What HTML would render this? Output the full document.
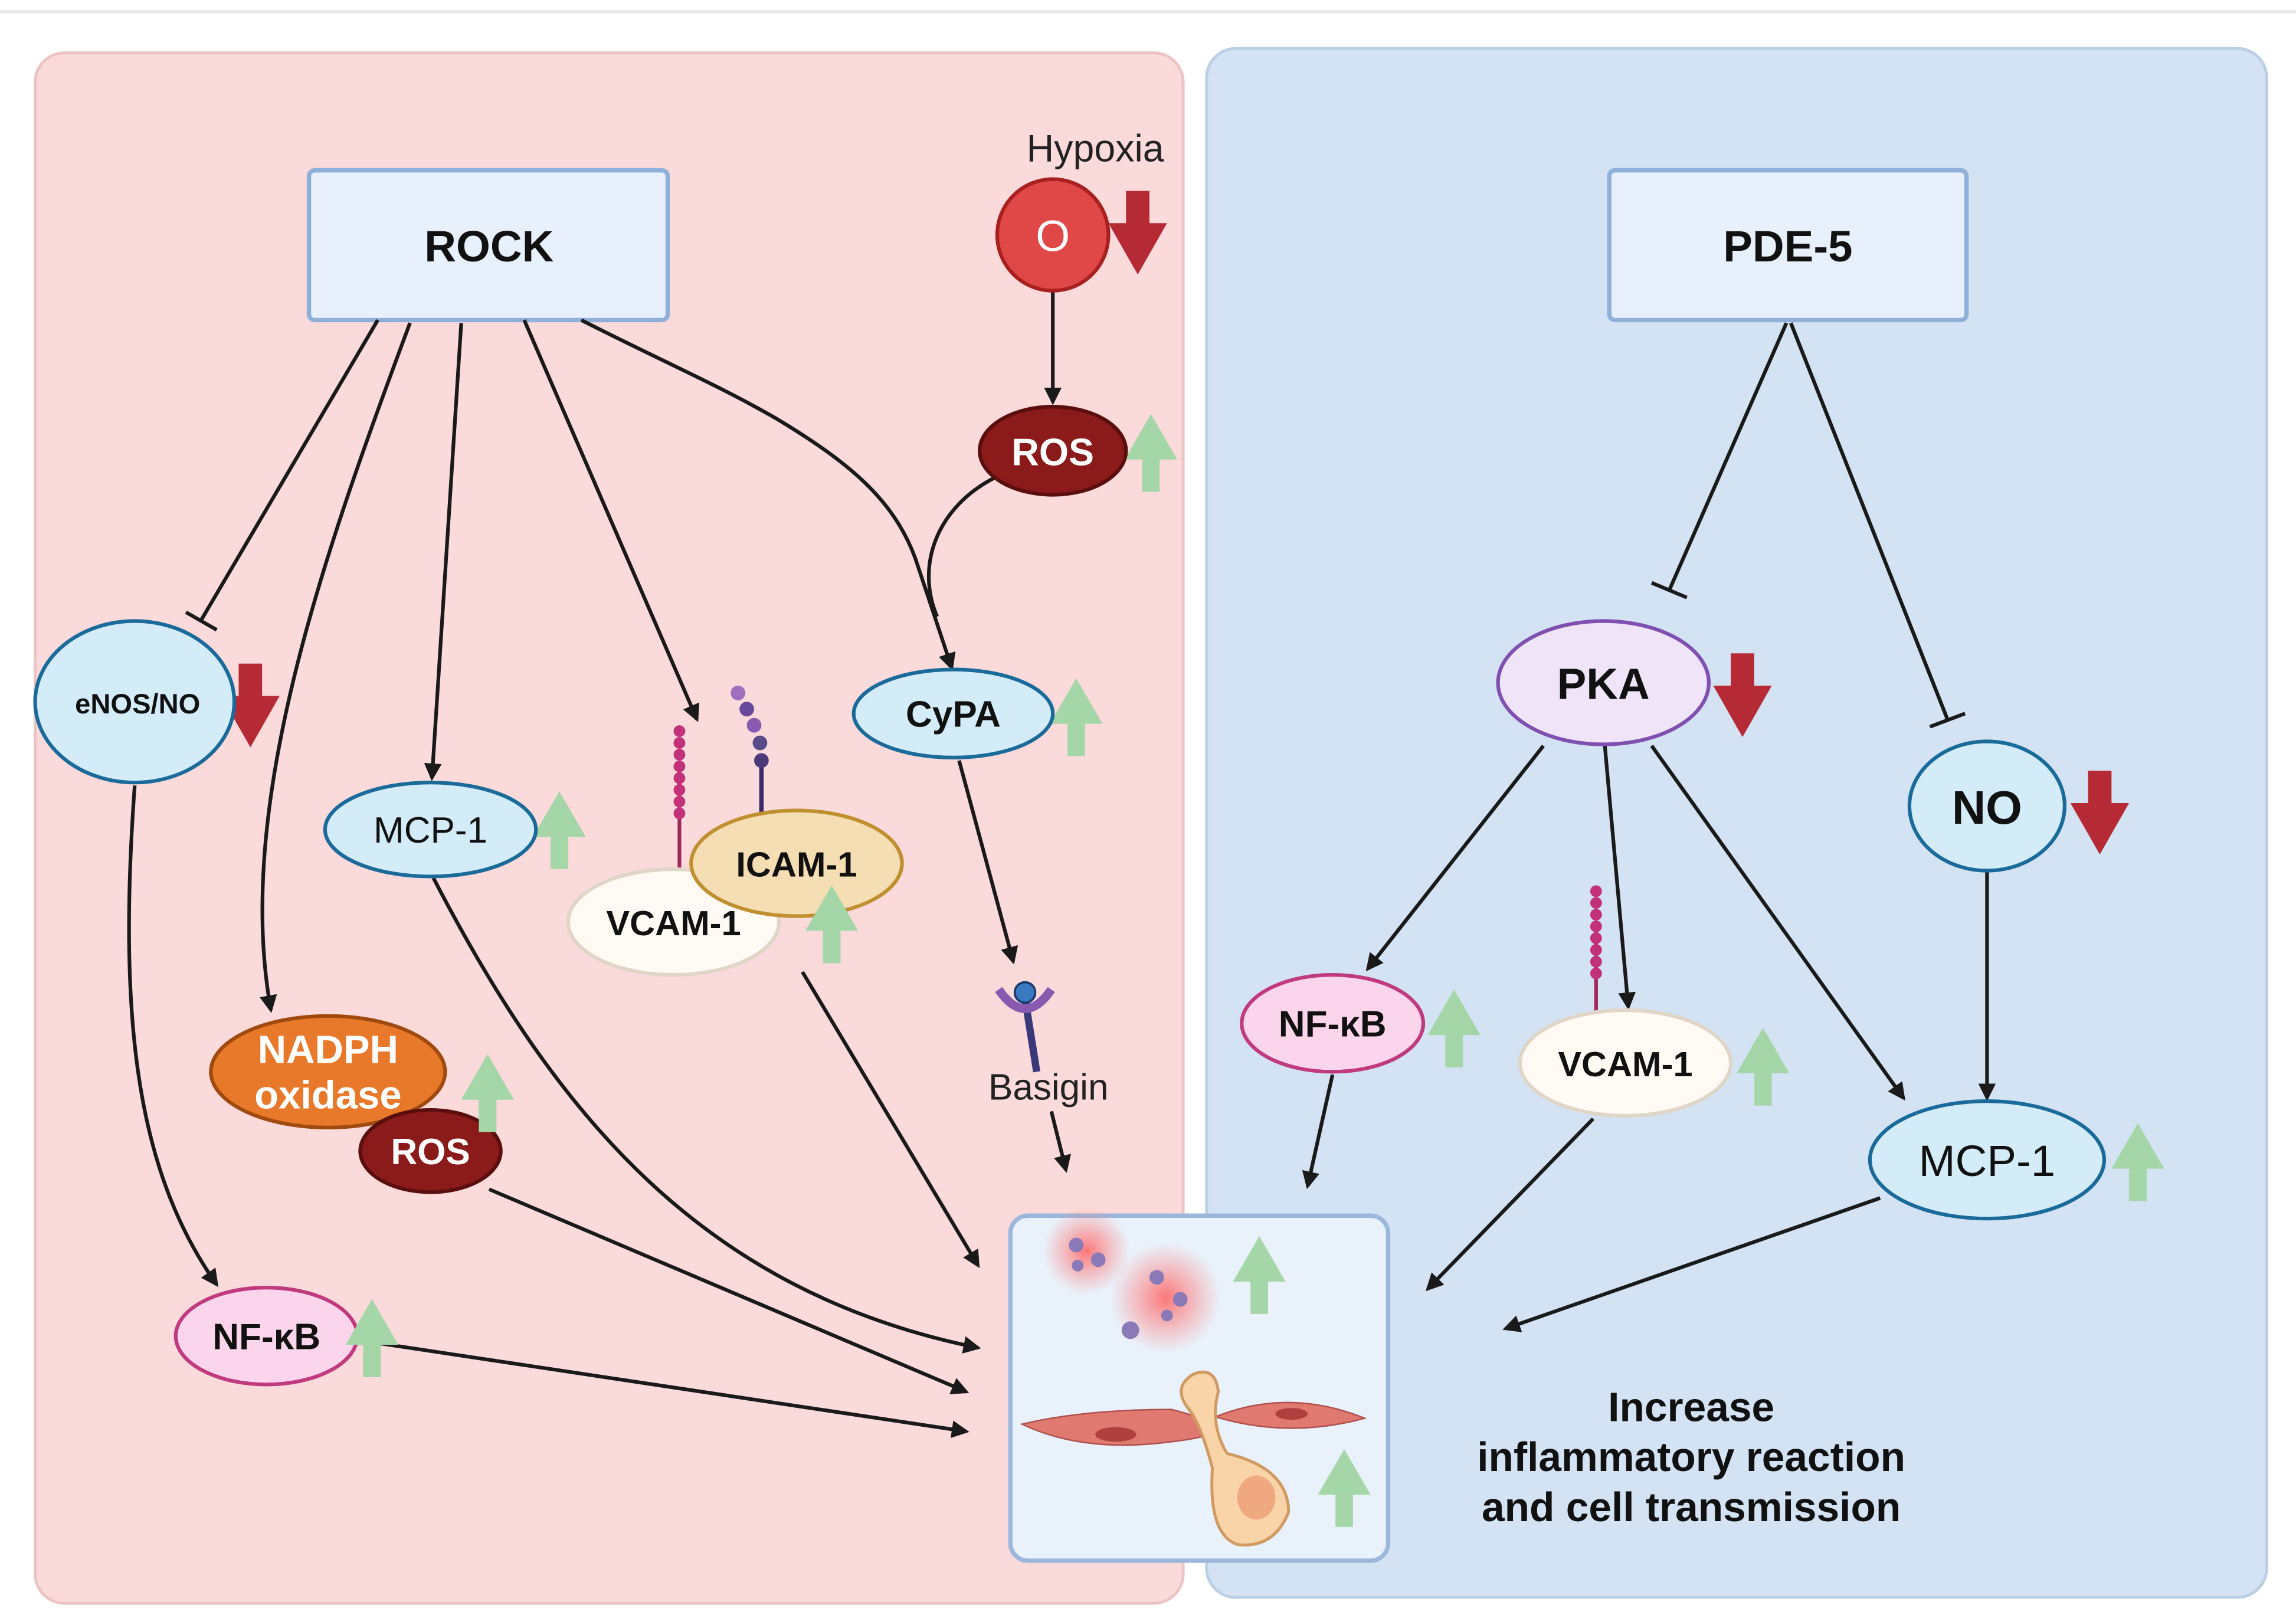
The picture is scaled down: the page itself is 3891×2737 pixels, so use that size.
<!DOCTYPE html>
<html><head><meta charset="utf-8">
<style>
html,body{margin:0;padding:0;background:#fff;}
svg{display:block;}
text{font-family:"Liberation Sans",Arial,sans-serif;}
</style></head>
<body>
<svg width="3891" height="2737" viewBox="0 0 1568 1100" preserveAspectRatio="none" xmlns="http://www.w3.org/2000/svg">
<defs>
<marker id="ah" markerWidth="12" markerHeight="12" refX="10" refY="6" orient="auto" markerUnits="userSpaceOnUse">
<path d="M0,0 L12,6 L0,12 Z" fill="#1a1a1a"/></marker>
<radialGradient id="glow"><stop offset="0" stop-color="#ff6a6a" stop-opacity="0.9"/><stop offset="1" stop-color="#ff8080" stop-opacity="0"/></radialGradient>
</defs>
<rect width="1568" height="1100" fill="#fff"/>
<line x1="0" y1="8" x2="1568" y2="8" stroke="#e6e6e6" stroke-width="2"/>
<rect x="24" y="36" width="784" height="1056" rx="20" fill="#fadadb" stroke="#ecc4c4" stroke-width="2"/>
<rect x="824" y="33" width="724" height="1055" rx="20" fill="#d3e3f3" stroke="#bccfe4" stroke-width="2"/>

<rect x="211" y="116" width="245" height="102" rx="4" fill="#e8f0fb" stroke="#8fb0d8" stroke-width="3"/>
<text x="334" y="178" font-size="30" font-weight="bold" text-anchor="middle" fill="#111">ROCK</text>
<rect x="1099" y="116" width="244" height="102" rx="4" fill="#e8f0fb" stroke="#8fb0d8" stroke-width="3"/>
<text x="1221" y="178" font-size="30" font-weight="bold" text-anchor="middle" fill="#111">PDE-5</text>

<g stroke="#1a1a1a" stroke-width="2.5" fill="none">
<line x1="258" y1="218" x2="137" y2="423"/>
<line x1="127" y1="417" x2="148" y2="429"/>
<path d="M280,220 C220,380 160,550 185,688" marker-end="url(#ah)"/>
<line x1="315" y1="220" x2="295" y2="530" marker-end="url(#ah)"/>
<line x1="358" y1="218" x2="476" y2="490" marker-end="url(#ah)"/>
<path d="M397,218 C450,245 490,262 530,285 C580,315 610,340 625,380 L650,455" marker-end="url(#ah)"/>
<path d="M680,325 C640,345 625,385 640,420"/>
<line x1="719" y1="198" x2="719" y2="274" marker-end="url(#ah)"/>
<line x1="655" y1="518" x2="692" y2="655" marker-end="url(#ah)"/>
<line x1="718" y1="757" x2="728" y2="797" marker-end="url(#ah)"/>
<path d="M92,535 C80,700 95,800 148,875" marker-end="url(#ah)"/>
<path d="M296,598 C380,760 480,880 668,918" marker-end="url(#ah)"/>
<line x1="548" y1="662" x2="668" y2="862" marker-end="url(#ah)"/>
<line x1="334" y1="810" x2="660" y2="948" marker-end="url(#ah)"/>
<line x1="246" y1="913" x2="660" y2="975" marker-end="url(#ah)"/>

<line x1="1220" y1="220" x2="1140" y2="402"/>
<line x1="1128" y1="397" x2="1152" y2="407"/>
<line x1="1223" y1="220" x2="1330" y2="490"/>
<line x1="1318" y1="495" x2="1342" y2="486"/>
<line x1="1054" y1="508" x2="934" y2="660" marker-end="url(#ah)"/>
<line x1="1096" y1="508" x2="1112" y2="686" marker-end="url(#ah)"/>
<line x1="1128" y1="508" x2="1300" y2="748" marker-end="url(#ah)"/>
<line x1="1357" y1="594" x2="1357" y2="748" marker-end="url(#ah)"/>
<line x1="910" y1="732" x2="893" y2="808" marker-end="url(#ah)"/>
<line x1="1088" y1="762" x2="975" y2="878" marker-end="url(#ah)"/>
<line x1="1284" y1="816" x2="1028" y2="905" marker-end="url(#ah)"/>
</g>

<!-- up/down arrow glyph defs inline -->
<g id="arrows">
<path d="M769,130 h16 v22 h12 l-20,35 l-20,-35 h12z" fill="#b52a35"/>
<path d="M780,335 h12 v-22 h12 l-18,-31 l-18,31 h12z" fill="#a5d6a7"/>
<path d="M163,452 h16 v22 h12 l-20,35 l-20,-35 h12z" fill="#b52a35"/>
<path d="M376,592 h12 v-22 h12 l-18,-31 l-18,31 h12z" fill="#a5d6a7"/>
<path d="M562,656 h12 v-22 h12 l-18,-31 l-18,31 h12z" fill="#a5d6a7"/>
<path d="M729,515 h12 v-22 h12 l-18,-31 l-18,31 h12z" fill="#a5d6a7"/>
<path d="M327,771 h12 v-22 h12 l-18,-31 l-18,31 h12z" fill="#a5d6a7"/>
<path d="M248,938 h12 v-22 h12 l-18,-31 l-18,31 h12z" fill="#a5d6a7"/>
<path d="M854,895 h12 v-22 h12 l-18,-31 l-18,31 h12z" fill="#a5d6a7"/>
<path d="M912,1040 h12 v-22 h12 l-18,-31 l-18,31 h12z" fill="#a5d6a7"/>
<path d="M1182,445 h16 v22 h12 l-20,35 l-20,-35 h12z" fill="#b52a35"/>
<path d="M1426,525 h16 v22 h12 l-20,35 l-20,-35 h12z" fill="#b52a35"/>
<path d="M987,727 h12 v-22 h12 l-18,-31 l-18,31 h12z" fill="#a5d6a7"/>
<path d="M1198,753 h12 v-22 h12 l-18,-31 l-18,31 h12z" fill="#a5d6a7"/>
<path d="M1454,818 h12 v-22 h12 l-18,-31 l-18,31 h12z" fill="#a5d6a7"/>
</g>

<text x="748" y="110" font-size="26" text-anchor="middle" fill="#222">Hypoxia</text>
<circle cx="719" cy="160" r="38" fill="#e04848" stroke="#a82020" stroke-width="2.5"/>
<text x="719" y="171" font-size="30" text-anchor="middle" fill="#fff">O</text>
<ellipse cx="719" cy="307" rx="50" ry="30" fill="#8b1a1a" stroke="#5a0e0e" stroke-width="2.5"/>
<text x="719" y="317" font-size="26" font-weight="bold" text-anchor="middle" fill="#fff">ROS</text>

<ellipse cx="92" cy="478" rx="68" ry="55" fill="#d4ebf8" stroke="#1a6a9a" stroke-width="2.5"/>
<text x="94" y="486" font-size="19" font-weight="bold" text-anchor="middle" fill="#111">eNOS/NO</text>
<ellipse cx="294" cy="565" rx="72" ry="32" fill="#d4ebf8" stroke="#1a6a9a" stroke-width="2.5"/>
<text x="294" y="574" font-size="25" text-anchor="middle" fill="#111">MCP-1</text>
<ellipse cx="651" cy="486" rx="68" ry="30" fill="#d4ebf8" stroke="#1a6a9a" stroke-width="2.5"/>
<text x="651" y="495" font-size="25" font-weight="bold" text-anchor="middle" fill="#111">CyPA</text>

<!-- adhesion molecules -->
<line x1="464" y1="520" x2="464" y2="592" stroke="#a0285a" stroke-width="2.5"/>
<g fill="#c2317a"><circle cx="464" cy="498" r="4"/><circle cx="464" cy="506" r="4"/><circle cx="464" cy="514" r="4"/><circle cx="464" cy="522" r="4"/><circle cx="464" cy="530" r="4"/><circle cx="464" cy="538" r="4"/><circle cx="464" cy="546" r="4"/><circle cx="464" cy="554" r="4"/></g>
<line x1="520" y1="520" x2="520" y2="575" stroke="#3a2a6a" stroke-width="3"/>
<g><circle cx="504" cy="472" r="5" fill="#a070c0"/><circle cx="510" cy="483" r="5" fill="#6a4a9a"/><circle cx="515" cy="494" r="5" fill="#8a5ab0"/><circle cx="519" cy="506" r="5" fill="#5a4a8a"/><circle cx="520" cy="518" r="5" fill="#4a3a7a"/></g>
<ellipse cx="460" cy="628" rx="72" ry="36" fill="#fffaf3" stroke="#e0d6c8" stroke-width="2.5"/>
<text x="460" y="637" font-size="24" font-weight="bold" text-anchor="middle" fill="#111">VCAM-1</text>
<ellipse cx="544" cy="588" rx="72" ry="36" fill="#f5deb3" stroke="#c09030" stroke-width="2.5"/>
<text x="544" y="597" font-size="24" font-weight="bold" text-anchor="middle" fill="#111">ICAM-1</text>
<path d="M562,656 h12 v-22 h12 l-18,-31 l-18,31 h12z" fill="#a5d6a7"/>

<!-- basigin -->
<line x1="700" y1="680" x2="708" y2="730" stroke="#3a3a7a" stroke-width="5"/>
<path d="M682,674 Q700,700 718,674" fill="none" stroke="#8a5ab0" stroke-width="6"/>
<circle cx="700" cy="676" r="7" fill="#3a7ac0" stroke="#1a3a6a" stroke-width="1.5"/>
<text x="716" y="749" font-size="25" text-anchor="middle" fill="#222">Basigin</text>

<ellipse cx="224" cy="730" rx="80" ry="38" fill="#e8782a" stroke="#a04a10" stroke-width="2.5"/>
<text x="224" y="724" font-size="27" font-weight="bold" text-anchor="middle" fill="#fff">NADPH</text>
<text x="224" y="755" font-size="27" font-weight="bold" text-anchor="middle" fill="#fff">oxidase</text>
<ellipse cx="294" cy="784" rx="48" ry="28" fill="#8b1a1a" stroke="#5a0e0e" stroke-width="2.5"/>
<text x="294" y="793" font-size="25" font-weight="bold" text-anchor="middle" fill="#fff">ROS</text>
<path d="M327,771 h12 v-22 h12 l-18,-31 l-18,31 h12z" fill="#a5d6a7"/>
<ellipse cx="182" cy="910" rx="62" ry="33" fill="#fbd5ec" stroke="#c03a80" stroke-width="2.5"/>
<text x="182" y="919" font-size="25" font-weight="bold" text-anchor="middle" fill="#111">NF-κB</text>
<path d="M248,938 h12 v-22 h12 l-18,-31 l-18,31 h12z" fill="#a5d6a7"/>

<!-- center cell box -->
<rect x="690" y="828" width="258" height="235" rx="12" fill="#e9f2fb" stroke="#9bb8dc" stroke-width="3"/>
<circle cx="742" cy="852" r="30" fill="url(#glow)"/>
<circle cx="796" cy="884" r="38" fill="url(#glow)"/>
<g fill="#8a7ab8"><circle cx="735" cy="848" r="5"/><circle cx="750" cy="858" r="5"/><circle cx="736" cy="862" r="4"/><circle cx="790" cy="870" r="5"/><circle cx="806" cy="885" r="5"/><circle cx="772" cy="906" r="6"/><circle cx="797" cy="896" r="4"/></g>
<path d="M698,970 Q740,960 800,960 Q860,975 800,982 Q740,990 698,970Z" fill="#e07a70" stroke="#b05050"/>
<ellipse cx="762" cy="977" rx="14" ry="5" fill="#b04040"/>
<path d="M830,965 Q880,945 932,966 Q880,980 830,965Z" fill="#e07a70" stroke="#b05050"/>
<ellipse cx="882" cy="963" rx="11" ry="4" fill="#b04040"/>
<path d="M815,936 Q830,930 832,948 Q826,970 838,990 Q880,1000 880,1030 Q870,1055 845,1052 Q825,1045 828,1000 Q820,970 812,960 Q800,945 815,936Z" fill="#f8d4a8" stroke="#d09a60" stroke-width="2"/>
<ellipse cx="858" cy="1020" rx="13" ry="15" fill="#f0a880"/>
<path d="M854,895 h12 v-22 h12 l-18,-31 l-18,31 h12z" fill="#a5d6a7"/>
<path d="M912,1040 h12 v-22 h12 l-18,-31 l-18,31 h12z" fill="#a5d6a7"/>

<!-- right nodes -->
<ellipse cx="1095" cy="465" rx="72" ry="42" fill="#f0e4f8" stroke="#8050b0" stroke-width="2.5"/>
<text x="1095" y="476" font-size="30" font-weight="bold" text-anchor="middle" fill="#111">PKA</text>
<ellipse cx="1357" cy="549" rx="53" ry="44" fill="#d4ebf8" stroke="#1a6a9a" stroke-width="2.5"/>
<text x="1357" y="561" font-size="32" font-weight="bold" text-anchor="middle" fill="#111">NO</text>
<ellipse cx="910" cy="697" rx="62" ry="33" fill="#fbd5ec" stroke="#c03a80" stroke-width="2.5"/>
<text x="910" y="706" font-size="25" font-weight="bold" text-anchor="middle" fill="#111">NF-κB</text>
<line x1="1090" y1="630" x2="1090" y2="698" stroke="#a0285a" stroke-width="2.5"/>
<g fill="#c2317a"><circle cx="1090" cy="607" r="4"/><circle cx="1090" cy="615" r="4"/><circle cx="1090" cy="623" r="4"/><circle cx="1090" cy="631" r="4"/><circle cx="1090" cy="639" r="4"/><circle cx="1090" cy="647" r="4"/><circle cx="1090" cy="655" r="4"/><circle cx="1090" cy="663" r="4"/></g>
<ellipse cx="1110" cy="724" rx="72" ry="36" fill="#fffaf3" stroke="#e0d6c8" stroke-width="2.5"/>
<text x="1110" y="733" font-size="24" font-weight="bold" text-anchor="middle" fill="#111">VCAM-1</text>
<ellipse cx="1357" cy="790" rx="80" ry="40" fill="#d4ebf8" stroke="#1a6a9a" stroke-width="2.5"/>
<text x="1357" y="801" font-size="30" text-anchor="middle" fill="#111">MCP-1</text>

<text x="1155" y="968" font-size="28" font-weight="bold" text-anchor="middle" fill="#111">Increase</text>
<text x="1155" y="1002" font-size="28" font-weight="bold" text-anchor="middle" fill="#111">inflammatory reaction</text>
<text x="1155" y="1036" font-size="28" font-weight="bold" text-anchor="middle" fill="#111">and cell transmission</text>
</svg>
</body></html>
